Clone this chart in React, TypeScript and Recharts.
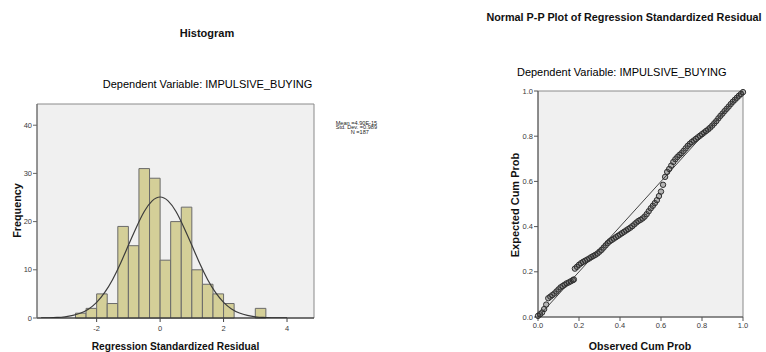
import React from 'react';
import { ComposedChart, XAxis, YAxis, Line, ReferenceArea, ReferenceLine, Scatter } from 'recharts';

// Histogram bins (Regression Standardized Residual)
const binLow = [-2.667, -2.333, -2.0, -1.667, -1.333, -1.0, -0.667, -0.333, 0.0, 0.333, 0.667, 1.0, 1.333, 1.667, 2.0, 3.0];
const binHigh = [-2.333, -2.0, -1.667, -1.333, -1.0, -0.667, -0.333, 0.0, 0.333, 0.667, 1.0, 1.333, 1.667, 2.0, 2.333, 3.333];
const binCount = [1, 2, 5, 3, 19, 15, 31, 29, 12, 20, 23, 10, 7, 5, 3, 2];

// Normal curve
const curveX = [-3.75, -3.5, -3.25, -3, -2.75, -2.5, -2.25, -2, -1.75, -1.5, -1.25, -1, -0.75, -0.5, -0.25, 0, 0.25, 0.5, 0.75, 1, 1.25, 1.5, 1.75, 2, 2.25, 2.5, 2.75, 3, 3.25, 3.5, 3.75, 4];
const curveY = [0.02, 0.05, 0.11, 0.25, 0.53, 1.03, 1.89, 3.25, 5.25, 7.95, 11.3, 15.1, 18.8, 22.1, 24.3, 25.1, 24.3, 22.1, 18.8, 15.1, 11.3, 7.95, 5.25, 3.25, 1.89, 1.03, 0.53, 0.25, 0.11, 0.05, 0.02, 0.01];

const histXDomain = [-3.88, 4.85];
const histYDomain = [0, 44.4];
const histXTicks = [-2, 0, 2, 4];
const histYTicks = [0, 10, 20, 30, 40];

// P-P plot points
const ppObserved = [0.00, 0.01, 0.02, 0.03, 0.04, 0.05, 0.06, 0.07, 0.08, 0.09, 0.10, 0.11, 0.12, 0.13, 0.14, 0.15, 0.16, 0.17, 0.175, 0.18, 0.19, 0.20, 0.21, 0.22, 0.23, 0.24, 0.25, 0.26, 0.27, 0.28, 0.29, 0.30, 0.31, 0.32, 0.33, 0.34, 0.35, 0.36, 0.37, 0.38, 0.39, 0.40, 0.41, 0.42, 0.43, 0.44, 0.45, 0.46, 0.47, 0.48, 0.49, 0.50, 0.51, 0.52, 0.53, 0.54, 0.55, 0.56, 0.57, 0.58, 0.59, 0.60, 0.61, 0.62, 0.63, 0.64, 0.65, 0.66, 0.67, 0.68, 0.69, 0.70, 0.71, 0.72, 0.73, 0.74, 0.75, 0.76, 0.77, 0.78, 0.79, 0.80, 0.81, 0.82, 0.83, 0.84, 0.85, 0.86, 0.87, 0.88, 0.89, 0.90, 0.91, 0.92, 0.93, 0.94, 0.95, 0.96, 0.97, 0.98, 0.99, 1.00];
const ppExpected = [0.005, 0.012, 0.02, 0.035, 0.055, 0.083, 0.09, 0.097, 0.104, 0.113, 0.122, 0.131, 0.137, 0.143, 0.149, 0.153, 0.158, 0.163, 0.166, 0.214, 0.222, 0.231, 0.238, 0.244, 0.249, 0.254, 0.259, 0.265, 0.27, 0.275, 0.281, 0.289, 0.297, 0.307, 0.317, 0.327, 0.335, 0.341, 0.347, 0.353, 0.359, 0.365, 0.371, 0.377, 0.383, 0.389, 0.395, 0.402, 0.41, 0.418, 0.425, 0.43, 0.436, 0.444, 0.455, 0.468, 0.481, 0.492, 0.504, 0.517, 0.535, 0.555, 0.585, 0.62, 0.642, 0.655, 0.67, 0.686, 0.698, 0.708, 0.717, 0.725, 0.735, 0.746, 0.757, 0.766, 0.774, 0.781, 0.788, 0.795, 0.802, 0.809, 0.816, 0.823, 0.83, 0.838, 0.847, 0.857, 0.867, 0.879, 0.89, 0.9, 0.911, 0.921, 0.931, 0.942, 0.952, 0.961, 0.97, 0.979, 0.987, 0.995];
const ppTicks = [0, 0.2, 0.4, 0.6, 0.8, 1.0];

const curveData = curveX.map((x, i) => ({ x, y: curveY[i] }));
const ppData = ppObserved.map((x, i) => ({ x, y: ppExpected[i] }));

const FONT = '"Liberation Sans", Arial, sans-serif';
const tickStyle = { fontSize: 7.5, fill: '#3a3a3a', fontFamily: FONT };

const Circle = (props: any) => {
  const { cx, cy } = props;
  if (cx == null || cy == null) return null;
  return <circle cx={cx} cy={cy} r={2.7} fill="rgba(70,70,70,0.35)" stroke="#2e2e2e" strokeWidth={1} />;
};

export default function App() {
  return (
    <div style={{ position: 'absolute', left: 0, top: 0, width: 766, height: 352, background: '#fff', overflow: 'hidden' }}>
      <div style={{ position: 'absolute', left: 0, top: 0 }}>
        <ComposedChart width={330} height={352} data={curveData} margin={{ top: 104, right: 16, bottom: 14, left: 0 }}>
          <XAxis dataKey="x" type="number" domain={histXDomain} ticks={histXTicks} height={20} tickSize={4} tickMargin={4}
            tick={tickStyle} axisLine={{ stroke: '#222' }} tickLine={{ stroke: '#444' }} allowDataOverflow />
          <YAxis type="number" domain={histYDomain} ticks={histYTicks} width={37} tickSize={4} tickMargin={1}
            tick={tickStyle} axisLine={{ stroke: '#666' }} tickLine={{ stroke: '#666' }} allowDataOverflow />
          <ReferenceArea x1={histXDomain[0]} x2={histXDomain[1]} y1={histYDomain[0]} y2={histYDomain[1]} fill="#f0f0f0" fillOpacity={1} stroke="#8a8a8a" strokeWidth={1} />
          {binCount.map((c, i) => (
            <ReferenceArea key={i} x1={binLow[i]} x2={binHigh[i]} y1={0} y2={c} fill="#d4cf98" fillOpacity={1} stroke="#6a6a6a" strokeWidth={1} />
          ))}
          <Line dataKey="y" type="natural" stroke="#3c3c3c" strokeWidth={1.2} dot={false} isAnimationActive={false} />
        </ComposedChart>
      </div>
      <div style={{ position: 'absolute', left: 440, top: 0 }}>
        <ComposedChart width={326} height={352} data={ppData} margin={{ top: 91, right: 23, bottom: 15, left: 0 }}>
          <XAxis dataKey="x" type="number" domain={[0, 1]} ticks={ppTicks} height={20} tickSize={4} tickMargin={2}
            tick={tickStyle} tickFormatter={(v: number) => v.toFixed(1)} axisLine={{ stroke: '#555' }} tickLine={{ stroke: '#555' }} />
          <YAxis dataKey="y" type="number" domain={[0, 1]} ticks={ppTicks} width={98} tickSize={4} tickMargin={1}
            tick={tickStyle} tickFormatter={(v: number) => v.toFixed(1)} axisLine={{ stroke: '#555' }} tickLine={{ stroke: '#555' }} />
          <ReferenceArea x1={0} x2={1} y1={0} y2={1} fill="#f0f0f0" fillOpacity={1} stroke="#8a8a8a" strokeWidth={1} />
          <ReferenceLine segment={[{ x: 0, y: 0 }, { x: 1, y: 1 }]} stroke="#444" strokeWidth={1} />
          <Scatter data={ppData} dataKey="y" shape={Circle} isAnimationActive={false} />
        </ComposedChart>
      </div>
      <svg width={766} height={352} style={{ position: 'absolute', left: 0, top: 0, pointerEvents: 'none' }} fontFamily={FONT}>
        <text x={207} y={33} textAnchor="middle" dominantBaseline="central" fontSize={11} fontWeight="bold" fill="#111">Histogram</text>
        <text x={207.5} y={84} textAnchor="middle" dominantBaseline="central" fontSize={11} fill="#000">Dependent Variable: IMPULSIVE_BUYING</text>
        <text x={16.5} y={210.5} textAnchor="middle" dominantBaseline="central" fontSize={10.8} fontWeight="bold" fill="#111" transform="rotate(-90 16.5 210.5)">Frequency</text>
        <text x={175.5} y={346.5} textAnchor="middle" dominantBaseline="central" fontSize={10.2} fontWeight="bold" fill="#111">Regression Standardized Residual</text>
        <text x={335.7} y={122.7} dominantBaseline="central" fontSize={5.6} fill="#222">Mean =4.90E-15</text>
        <text x={335.7} y={127.3} dominantBaseline="central" fontSize={5.6} fill="#222">Std. Dev. =0.989</text>
        <text x={350.7} y={131.8} dominantBaseline="central" fontSize={5.6} fill="#222">N =187</text>
        <text x={624} y={17} textAnchor="middle" dominantBaseline="central" fontSize={10.8} fontWeight="bold" fill="#111">Normal P-P Plot of Regression Standardized Residual</text>
        <text x={621.7} y={71.7} textAnchor="middle" dominantBaseline="central" fontSize={11} fill="#000">Dependent Variable: IMPULSIVE_BUYING</text>
        <text x={515} y={205} textAnchor="middle" dominantBaseline="central" fontSize={11} fontWeight="bold" fill="#111" transform="rotate(-90 515 205)">Expected Cum Prob</text>
        <text x={640} y={346} textAnchor="middle" dominantBaseline="central" fontSize={10.6} fontWeight="bold" fill="#111">Observed Cum Prob</text>
      </svg>
    </div>
  );
}
